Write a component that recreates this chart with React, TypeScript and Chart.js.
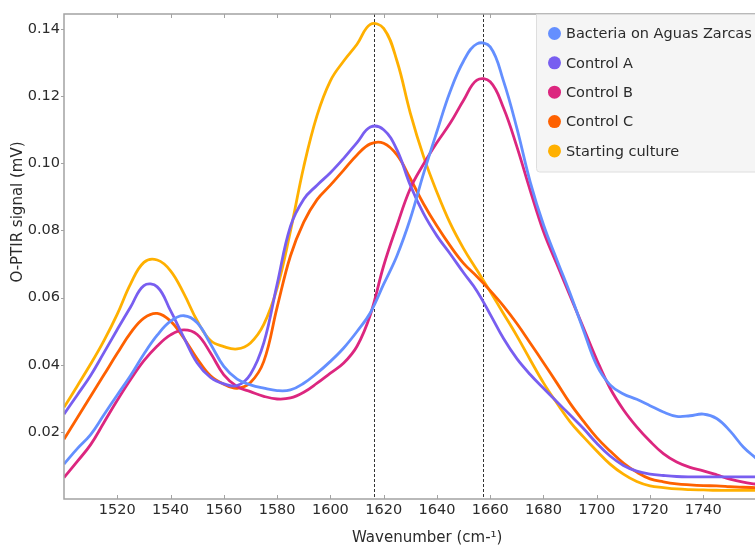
import React, { useEffect, useRef } from "react";
import { Chart, registerables } from "chart.js";

Chart.register(...registerables);

// ---------- data ----------
const wavenumbers = [
  1500, 1505, 1510, 1515, 1520, 1525, 1530, 1535, 1540, 1545, 1550, 1555, 1560,
  1565, 1570, 1575, 1580, 1585, 1590, 1595, 1600, 1605, 1610, 1615, 1620,
  1625, 1630, 1635, 1640, 1645, 1650, 1655, 1660, 1665, 1670, 1675, 1680,
  1685, 1690, 1695, 1700, 1705, 1710, 1715, 1720, 1725, 1730, 1735, 1740,
  1745, 1750, 1755, 1760,
];

const bacteriaAguasZarcas = [
  0.0104, 0.0150, 0.0192, 0.0251, 0.0310, 0.0368, 0.0432, 0.0488, 0.0530, 0.0546, 0.0525, 0.0462, 0.0395,
  0.0357, 0.0340, 0.0330, 0.0323, 0.0325, 0.0345, 0.0375, 0.0410, 0.0450, 0.0499, 0.0555, 0.0640,
  0.0725, 0.0835, 0.0970, 0.1095, 0.1215, 0.1305, 0.1356, 0.1347, 0.1245, 0.1105, 0.0945, 0.0817,
  0.0713, 0.0612, 0.0503, 0.0398, 0.0340, 0.0313, 0.0297, 0.0278, 0.0259, 0.0246, 0.0248, 0.0253,
  0.0240, 0.0203, 0.0155, 0.0120,
];

const controlA = [
  0.0253, 0.0310, 0.0368, 0.0436, 0.0505, 0.0572, 0.0636, 0.0632, 0.0561, 0.0481, 0.0405, 0.0362, 0.0343,
  0.0338, 0.0372, 0.0465, 0.0640, 0.0812, 0.0893, 0.0935, 0.0972, 0.1015, 0.1062, 0.1108, 0.1100,
  0.1040, 0.0935, 0.0850, 0.0784, 0.0730, 0.0674, 0.0620, 0.0550, 0.0478, 0.0418, 0.0371, 0.0330,
  0.0290, 0.0250, 0.0210, 0.0166, 0.0128, 0.0100, 0.0083, 0.0074, 0.0070, 0.0067, 0.0066, 0.0066,
  0.0066, 0.0066, 0.0066, 0.0066,
];

const controlB = [
  0.0064, 0.0112, 0.0162, 0.0228, 0.0294, 0.0356, 0.0412, 0.0456, 0.0489, 0.0504, 0.0490, 0.0435, 0.0370,
  0.0335, 0.0320, 0.0306, 0.0298, 0.0301, 0.0318, 0.0345, 0.0375, 0.0405, 0.0455, 0.0549, 0.0695,
  0.0815, 0.0925, 0.0998, 0.1062, 0.1120, 0.1188, 0.1248, 0.1243, 0.1165, 0.1050, 0.0920, 0.0797,
  0.0700, 0.0605, 0.0510, 0.0415, 0.0330, 0.0266, 0.0215, 0.0172, 0.0135, 0.0110, 0.0094, 0.0084,
  0.0072, 0.0059, 0.0050, 0.0044,
];

const controlC = [
  0.0178, 0.0242, 0.0306, 0.0370, 0.0434, 0.0495, 0.0539, 0.0553, 0.0530, 0.0479, 0.0418, 0.0367, 0.0342,
  0.0330, 0.0347, 0.0410, 0.0571, 0.0724, 0.0825, 0.0892, 0.0935, 0.0980, 0.1025, 0.1058, 0.1060,
  0.1025, 0.0955, 0.0879, 0.0813, 0.0754, 0.0702, 0.0663, 0.0621, 0.0575, 0.0523, 0.0465, 0.0406,
  0.0346, 0.0285, 0.0232, 0.0183, 0.0143, 0.0107, 0.0080, 0.0060, 0.0051, 0.0045, 0.0042, 0.0040,
  0.0039, 0.0037, 0.0035, 0.0034,
];

const startingCulture = [
  0.0273, 0.0337, 0.0402, 0.0472, 0.0551, 0.0641, 0.0705, 0.0712, 0.0680, 0.0612, 0.0531, 0.0472, 0.0454,
  0.0447, 0.0465, 0.0520, 0.0628, 0.0798, 0.0990, 0.1143, 0.1246, 0.1305, 0.1355, 0.1414, 0.1402,
  0.1305, 0.1150, 0.1020, 0.0914, 0.0821, 0.0746, 0.0682, 0.0618, 0.0552, 0.0486, 0.0415, 0.0346,
  0.0286, 0.0230, 0.0185, 0.0143, 0.0104, 0.0074, 0.0052, 0.0039, 0.0034, 0.0030, 0.0028, 0.0027,
  0.0026, 0.0026, 0.0026, 0.0026,
];

const seriesNames = [
  "Bacteria on Aguas Zarcas",
  "Control A",
  "Control B",
  "Control C",
  "Starting culture",
];
const seriesValues = [bacteriaAguasZarcas, controlA, controlB, controlC, startingCulture];
const seriesColors = ["#648FFF", "#785EF0", "#DC267F", "#FE6100", "#FFB000"];

const xTickValues = [1520, 1540, 1560, 1580, 1600, 1620, 1640, 1660, 1680, 1700, 1720, 1740];
const yTickValues = [0.02, 0.04, 0.06, 0.08, 0.1, 0.12, 0.14];
const markerLines = [1616.3, 1657.3];

const xTitle = "Wavenumber (cm-¹)";
const yTitle = "O-PTIR signal (mV)";

const FONT = '"DejaVu Sans", Verdana, sans-serif';
const TEXT_COLOR = "#2b2b2b";

const decorPlugin = {
  id: "decor",
  beforeDatasetsDraw(chart: any) {
    const { ctx, chartArea: a, scales } = chart;
    const x = scales.x;
    ctx.save();
    ctx.strokeStyle = "#333";
    ctx.lineWidth = 1;
    ctx.setLineDash([3, 2]);
    markerLines.forEach((v) => {
      const px = Math.round(x.getPixelForValue(v)) + 0.5;
      ctx.beginPath();
      ctx.moveTo(px, a.top);
      ctx.lineTo(px, a.bottom);
      ctx.stroke();
    });
    ctx.restore();
  },
  afterDatasetsDraw(chart: any) {
    const { ctx, chartArea: a, scales } = chart;
    const x = scales.x;
    const y = scales.y;
    ctx.save();
    // frame
    ctx.strokeStyle = "#a3a3a3";
    ctx.lineWidth = 1.5;
    ctx.beginPath();
    ctx.moveTo(chart.width + 5, a.top);
    ctx.lineTo(a.left, a.top);
    ctx.lineTo(a.left, a.bottom);
    ctx.lineTo(chart.width + 5, a.bottom);
    ctx.stroke();
    // tick marks
    ctx.lineWidth = 1;
    xTickValues.forEach((v) => {
      const px = Math.round(x.getPixelForValue(v)) + 0.5;
      ctx.beginPath();
      ctx.moveTo(px, a.bottom);
      ctx.lineTo(px, a.bottom - 4);
      ctx.moveTo(px, a.top);
      ctx.lineTo(px, a.top + 4);
      ctx.stroke();
    });
    yTickValues.forEach((v) => {
      const py = Math.round(y.getPixelForValue(v)) + 0.5;
      ctx.beginPath();
      ctx.moveTo(a.left, py);
      ctx.lineTo(a.left - 3, py);
      ctx.stroke();
    });
    ctx.restore();

    // legend
    ctx.save();
    const lx = 536;
    const ly = a.top;
    const lh = 157.5;
    ctx.fillStyle = "#f5f5f5";
    ctx.strokeStyle = "#dedede";
    ctx.lineWidth = 1;
    ctx.beginPath();
    ctx.moveTo(chart.width + 5, ly + 0.5);
    ctx.lineTo(lx + 0.5, ly + 0.5);
    ctx.lineTo(lx + 0.5, ly + lh - 3);
    ctx.quadraticCurveTo(lx + 0.5, ly + lh + 0.5, lx + 3.5, ly + lh + 0.5);
    ctx.lineTo(chart.width + 5, ly + lh + 0.5);
    ctx.closePath();
    ctx.fill();
    ctx.stroke();
    ctx.font = `14.5px ${FONT}`;
    ctx.textBaseline = "middle";
    ctx.textAlign = "left";
    chart.data.datasets.forEach((ds: any, i: number) => {
      const cy = ly + 19.5 + i * 29.35;
      ctx.fillStyle = ds.borderColor;
      ctx.beginPath();
      ctx.arc(554.5, cy, 6.5, 0, Math.PI * 2);
      ctx.fill();
      ctx.fillStyle = TEXT_COLOR;
      ctx.fillText(ds.label, 566, cy + 1);
    });
    ctx.restore();

    // axis titles
    ctx.save();
    ctx.fillStyle = TEXT_COLOR;
    ctx.font = `15px ${FONT}`;
    ctx.textBaseline = "middle";
    ctx.textAlign = "left";
    ctx.fillText(xTitle, 352, 538);
    ctx.translate(18, 212);
    ctx.rotate(-Math.PI / 2);
    ctx.textAlign = "center";
    ctx.fillText(yTitle, 0, 0);
    ctx.restore();
  },
};

export default function App() {
  const canvasRef = useRef<HTMLCanvasElement | null>(null);

  useEffect(() => {
    const canvas = canvasRef.current;
    if (!canvas) return;
    const chart = new Chart(canvas, {
      type: "line",
      data: {
        datasets: seriesNames.map((name, i) => ({
          label: name,
          data: wavenumbers.map((w, j) => ({ x: w, y: seriesValues[i][j] })),
          borderColor: seriesColors[i],
          backgroundColor: seriesColors[i],
          borderWidth: 2.8,
          pointRadius: 0,
          tension: 0.4,
          fill: false,
        })),
      },
      options: {
        animation: false,
        responsive: false,
        devicePixelRatio: 1,
        layout: { padding: { top: 14, left: 0, right: 0, bottom: 0 } },
        plugins: {
          legend: { display: false },
          tooltip: { enabled: false },
        },
        scales: {
          x: {
            type: "linear",
            min: 1500,
            max: 1759.4,
            afterBuildTicks: (s: any) => {
              s.ticks = xTickValues.map((v) => ({ value: v }));
            },
            afterFit: (s: any) => {
              s.height = 47;
            },
            grid: { display: false, drawTicks: false },
            border: { display: false },
            ticks: {
              autoSkip: false,
              maxRotation: 0,
              padding: 3,
              color: TEXT_COLOR,
              font: { family: FONT, size: 14.5 },
              callback: (v: any) => String(v),
            },
          },
          y: {
            type: "linear",
            min: 0,
            max: 0.1445,
            afterBuildTicks: (s: any) => {
              s.ticks = yTickValues.map((v) => ({ value: v }));
            },
            afterFit: (s: any) => {
              s.width = 64;
            },
            grid: { display: false, drawTicks: false },
            border: { display: false },
            ticks: {
              padding: 4,
              color: TEXT_COLOR,
              font: { family: FONT, size: 14.5 },
              callback: (v: any) => Number(v).toFixed(2),
            },
          },
        },
      },
      plugins: [decorPlugin],
    });
    return () => chart.destroy();
  }, []);

  return (
    <div style={{ position: "fixed", left: 0, top: 0, width: 755, height: 546, background: "#fff" }}>
      <canvas ref={canvasRef} width={755} height={546} style={{ display: "block" }} />
    </div>
  );
}
